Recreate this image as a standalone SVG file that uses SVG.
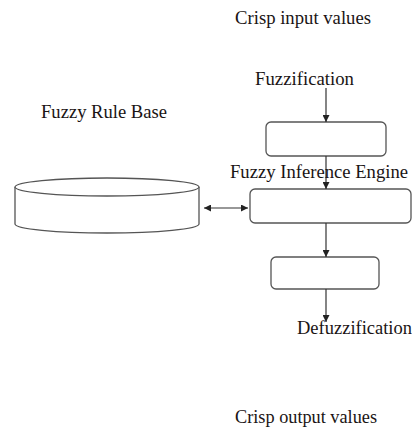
<svg xmlns="http://www.w3.org/2000/svg" width="412" height="430" viewBox="0 0 412 430">
  <style>
    .lbl { font-family: "Liberation Serif", "Times New Roman", serif; font-size: 18px; fill: #1a1414; }
    .box { fill: #ffffff; stroke: #555555; stroke-width: 1.3; }
    .cyl { fill: #ffffff; stroke: #555555; stroke-width: 1.3; }
    .wire { stroke: #333333; stroke-width: 1.2; fill: none; }
  </style>
  <defs>
    <marker id="arrowEnd" viewBox="0 0 10 10" refX="10" refY="5" markerWidth="7" markerHeight="7" markerUnits="userSpaceOnUse" orient="auto">
      <path d="M0,0 L10,5 L0,10 Z" fill="#222222"/>
    </marker>
    <marker id="arrowStart" viewBox="0 0 10 10" refX="0" refY="5" markerWidth="7" markerHeight="7" markerUnits="userSpaceOnUse" orient="auto">
      <path d="M10,0 L0,5 L10,10 Z" fill="#222222"/>
    </marker>
  </defs>
  <rect width="412" height="430" fill="#ffffff"/>

  <!-- labels -->
  <text class="lbl" x="235" y="24" textLength="136" lengthAdjust="spacingAndGlyphs">Crisp input values</text>
  <text class="lbl" x="255" y="85" textLength="99" lengthAdjust="spacingAndGlyphs">Fuzzification</text>
  <text class="lbl" x="41" y="118" textLength="126" lengthAdjust="spacingAndGlyphs">Fuzzy Rule Base</text>
  <text class="lbl" x="297" y="334" textLength="115" lengthAdjust="spacingAndGlyphs">Defuzzification</text>
  <text class="lbl" x="235" y="423" textLength="142" lengthAdjust="spacingAndGlyphs">Crisp output values</text>

  <!-- rule base store -->
  <g id="rule-base">
    <path class="cyl" d="M15,187 L15,224 A92,9 0 0 0 199,224 L199,187"/>
    <ellipse class="cyl" cx="107" cy="187" rx="92" ry="9"/>
  </g>

  <!-- fuzzification block -->
  <g id="fuzzifier">
    <rect class="box" x="266" y="122" width="120" height="34" rx="5"/>
  </g>

  <!-- inference engine block -->
  <g id="inference-engine">
    <rect class="box" x="250" y="189" width="161" height="34" rx="5"/>
  </g>

  <!-- defuzzification block -->
  <g id="defuzzifier">
    <rect class="box" x="271" y="257" width="108" height="32" rx="5"/>
  </g>

  <!-- connectors -->
  <g id="connectors">
    <line class="wire" x1="326" y1="88" x2="326" y2="122" marker-end="url(#arrowEnd)"/>
    <line class="wire" x1="326" y1="156" x2="326" y2="189" marker-end="url(#arrowEnd)"/>
    <line class="wire" x1="326" y1="223" x2="326" y2="257" marker-end="url(#arrowEnd)"/>
    <line class="wire" x1="326" y1="289" x2="326" y2="322" marker-end="url(#arrowEnd)"/>
    <line class="wire" x1="204" y1="208" x2="248" y2="208" marker-start="url(#arrowStart)" marker-end="url(#arrowEnd)"/>
  </g>

  <!-- engine label sits over the connector -->
  <text class="lbl" x="230" y="178" textLength="178" lengthAdjust="spacingAndGlyphs">Fuzzy Inference Engine</text>
</svg>
